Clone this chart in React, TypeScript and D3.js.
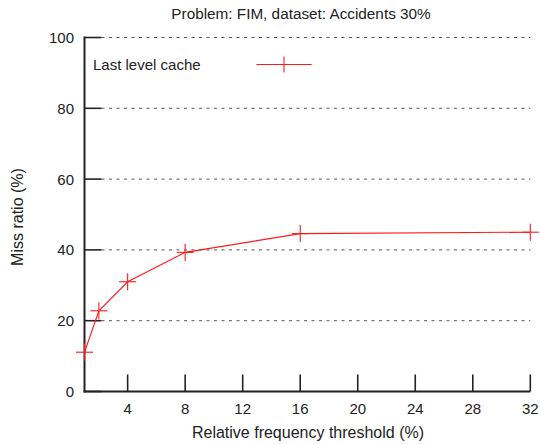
import React from "react";
import * as d3 from "d3";

const thresholds = [1, 2, 4, 8, 16, 32];
const missRatio = [11.1, 22.8, 31.0, 39.3, 44.6, 45.0];
const xTicks = [4, 8, 12, 16, 20, 24, 28, 32];
const yTicks = [0, 20, 40, 60, 80, 100];
const seriesName = "Last level cache";
const title = "Problem: FIM, dataset: Accidents 30%";
const xLabel = "Relative frequency threshold (%)";
const yLabel = "Miss ratio (%)";

const W = 540;
const H = 444;
const FONT = "'Liberation Sans', Arial, Helvetica, sans-serif";
const RED = "#ff1a1a";
const INK = "#222";

export default function App() {
  const x = d3.scaleLinear().domain([1, 32]).range([84.5, 530.3]);
  const y = d3.scaleLinear().domain([0, 100]).range([391.5, 37.5]);
  const pts: [number, number][] = thresholds.map((t, i) => [t, missRatio[i]]);
  const line = d3
    .line<[number, number]>()
    .x((d) => x(d[0]))
    .y((d) => y(d[1]));
  const cs = 8.5;
  const x0 = x(1);
  const y0 = y(0);
  return (
    <svg
      width={W}
      height={H}
      style={{ position: "absolute", left: 0, top: 0, background: "#fff" }}
      fontFamily={FONT}
    >
      <text x={301} y={19} textAnchor="middle" fontSize={15.3} fill={INK}>
        {title}
      </text>
      {/* grid */}
      {yTicks
        .filter((t) => t > 0)
        .map((t) => (
          <line
            key={"g" + t}
            x1={x0 + 17}
            x2={x(32)}
            y1={y(t)}
            y2={y(t)}
            stroke="#555"
            strokeWidth={1}
            strokeDasharray="3,4.5"
          />
        ))}
      {/* y ticks */}
      {yTicks.map((t) => (
        <g key={"y" + t}>
          <line x1={x0} x2={x0 + 17} y1={y(t)} y2={y(t)} stroke={INK} strokeWidth={1.6} />
          <text
            x={74}
            y={y(t)}
            dy="0.36em"
            textAnchor="end"
            fontSize={15}
            fill={INK}
          >
            {t}
          </text>
        </g>
      ))}
      {/* x ticks */}
      {xTicks.map((t) => (
        <g key={"x" + t}>
          <line x1={x(t)} x2={x(t)} y1={y0} y2={y0 - 17} stroke={INK} strokeWidth={1.6} />
          <text x={x(t)} y={414} textAnchor="middle" fontSize={15} fill={INK}>
            {t}
          </text>
        </g>
      ))}
      {/* axes */}
      <line x1={x0} x2={x0} y1={y(100) - 1} y2={y0 + 1} stroke={INK} strokeWidth={2} />
      <line x1={x0 - 1} x2={x(32)} y1={y0} y2={y0} stroke={INK} strokeWidth={2} />
      {/* axis labels */}
      <text x={308} y={438} textAnchor="middle" fontSize={16} fill={INK}>
        {xLabel}
      </text>
      <text
        transform={`translate(23,217) rotate(-90)`}
        textAnchor="middle"
        fontSize={16}
        fill={INK}
      >
        {yLabel}
      </text>
      {/* series */}
      <path d={line(pts) || ""} fill="none" stroke={RED} strokeWidth={1.1} />
      {pts.map((p, i) => (
        <g key={"p" + i} stroke={RED} strokeWidth={1.1}>
          <line x1={x(p[0]) - cs} x2={x(p[0]) + cs} y1={y(p[1])} y2={y(p[1])} />
          <line x1={x(p[0])} x2={x(p[0])} y1={y(p[1]) - cs} y2={y(p[1]) + cs} />
        </g>
      ))}
      {/* legend */}
      <text x={93} y={65} dy="0.36em" fontSize={15} fill={INK}>
        {seriesName}
      </text>
      <g stroke={RED} strokeWidth={1.1}>
        <line x1={256.5} x2={311.7} y1={64.5} y2={64.5} />
        <line x1={284} x2={284} y1={56.5} y2={72.5} />
      </g>
    </svg>
  );
}
